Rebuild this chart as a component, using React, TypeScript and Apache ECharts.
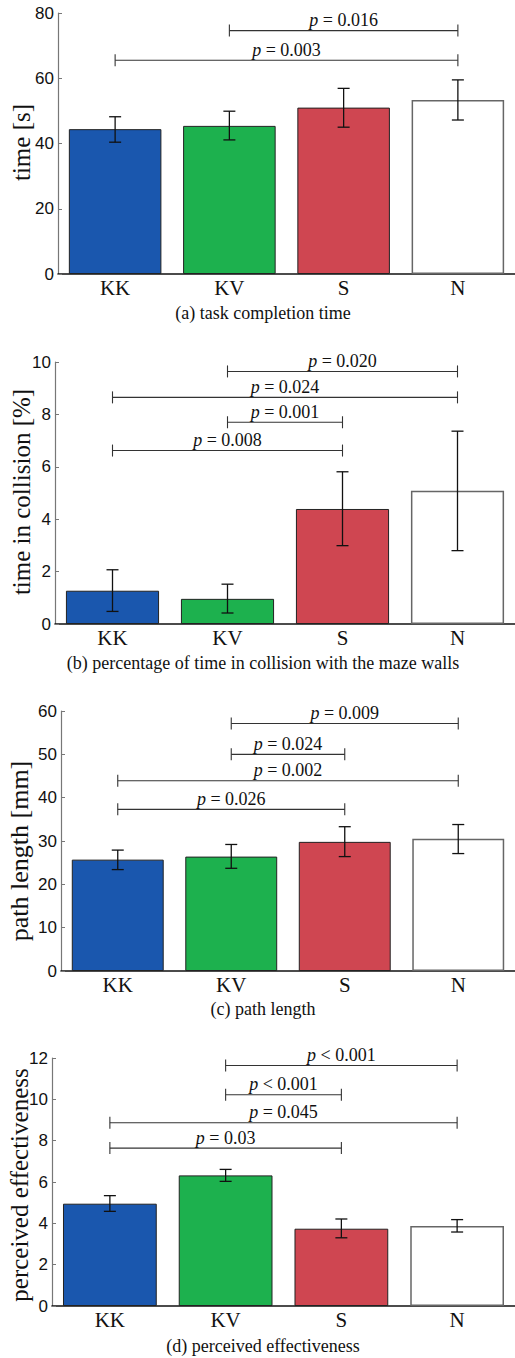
import React, { useEffect, useRef } from "react";
import * as echarts from "echarts";

const categories = ["KK", "KV", "S", "N"];
const barColors = ["#1a57ae", "#1db14e", "#cf4651", "#ffffff"];

// (a) task completion time
const timeMean = [44.4, 45.4, 51.0, 53.3];
const timeLow = [40.4, 41.1, 45.0, 47.2];
const timeHigh = [48.2, 49.9, 56.9, 59.5];
const timeBrackets = [
  { from: 1, to: 3, y: 74.6, op: "=", p: "0.016" },
  { from: 0, to: 3, y: 65.5, op: "=", p: "0.003" },
];

// (b) percentage of time in collision
const collMean = [1.27, 0.96, 4.39, 5.09];
const collLow = [0.48, 0.42, 2.99, 2.8];
const collHigh = [2.07, 1.52, 5.81, 7.36];
const collBrackets = [
  { from: 1, to: 3, y: 9.64, op: "=", p: "0.020" },
  { from: 0, to: 3, y: 8.65, op: "=", p: "0.024" },
  { from: 1, to: 2, y: 7.7, op: "=", p: "0.001" },
  { from: 0, to: 2, y: 6.62, op: "=", p: "0.008" },
];

// (c) path length
const pathMean = [25.7, 26.4, 29.8, 30.5];
const pathLow = [23.4, 23.7, 26.4, 27.1];
const pathHigh = [27.9, 29.2, 33.3, 33.8];
const pathBrackets = [
  { from: 1, to: 3, y: 57.1, op: "=", p: "0.009" },
  { from: 1, to: 2, y: 50.0, op: "=", p: "0.024" },
  { from: 0, to: 3, y: 43.9, op: "=", p: "0.002" },
  { from: 0, to: 2, y: 37.3, op: "=", p: "0.026" },
];

// (d) perceived effectiveness
const effMean = [4.95, 6.32, 3.74, 3.87];
const effLow = [4.58, 6.03, 3.3, 3.58];
const effHigh = [5.34, 6.61, 4.21, 4.18];
const effBrackets = [
  { from: 1, to: 3, y: 11.64, op: "<", p: "0.001" },
  { from: 1, to: 2, y: 10.22, op: "<", p: "0.001" },
  { from: 0, to: 3, y: 8.87, op: "=", p: "0.045" },
  { from: 0, to: 2, y: 7.64, op: "=", p: "0.03" },
];

const panels = [
  { name: "time [s]", max: 80, interval: 20, mean: timeMean, low: timeLow, high: timeHigh, brackets: timeBrackets, caption: "(a) task completion time" },
  { name: "time in collision [%]", max: 10, interval: 2, mean: collMean, low: collLow, high: collHigh, brackets: collBrackets, caption: "(b) percentage of time in collision with the maze walls" },
  { name: "path length [mm]", max: 60, interval: 10, mean: pathMean, low: pathLow, high: pathHigh, brackets: pathBrackets, caption: "(c) path length" },
  { name: "perceived effectiveness", max: 12, interval: 2, mean: effMean, low: effLow, high: effHigh, brackets: effBrackets, caption: "(d) perceived effectiveness" },
];

const grids = [
  { left: 58, top: 13, width: 457, height: 261 },
  { left: 55, top: 362, width: 460, height: 262 },
  { left: 61, top: 711, width: 454, height: 260 },
  { left: 52, top: 1058, width: 463, height: 248 },
];
const captionY = [313, 663, 1009, 1346];
const titlePos = [
  [21, 142.5],
  [21, 492],
  [19.5, 851],
  [19, 1185],
];
const titleSize = [25, 25, 26, 25];

const SERIF = "'Liberation Serif', 'DejaVu Serif', serif";
const SANS = "'Liberation Sans', Arial, sans-serif";

export default function App() {
  const ref = useRef<HTMLDivElement>(null);
  useEffect(() => {
    if (!ref.current) return;
    const chart = echarts.init(ref.current, null, { renderer: "svg" });
    const series: any[] = [];
    panels.forEach((p, k) => {
      series.push({
        type: "bar",
        xAxisIndex: k,
        yAxisIndex: k,
        z: 2,
        barCategoryGap: "19%",
        data: p.mean.map((v, i) => ({
          value: v,
          itemStyle: {
            color: barColors[i],
            borderColor: i === 3 ? "#666" : "#222",
            borderWidth: i === 3 ? 1.5 : 1,
          },
        })),
      });
      series.push({
        type: "custom",
        xAxisIndex: k,
        yAxisIndex: k,
        z: 5,
        clip: false,
        data: p.mean.map((_, i) => [i, p.low[i], p.high[i]]),
        renderItem: (params: any, api: any) => {
          const x = api.value(0);
          const hi = api.coord([x, api.value(2)]);
          const lo = api.coord([x, api.value(1)]);
          const cap = 6;
          const st = { stroke: "#111", lineWidth: 1.3 };
          return {
            type: "group",
            children: [
              { type: "line", shape: { x1: hi[0], y1: hi[1], x2: lo[0], y2: lo[1] }, style: st },
              { type: "line", shape: { x1: hi[0] - cap, y1: hi[1], x2: hi[0] + cap, y2: hi[1] }, style: st },
              { type: "line", shape: { x1: lo[0] - cap, y1: lo[1], x2: lo[0] + cap, y2: lo[1] }, style: st },
            ],
          };
        },
      });
      series.push({
        type: "custom",
        xAxisIndex: k,
        yAxisIndex: k,
        z: 5,
        clip: false,
        data: p.brackets.map((b) => [b.from, b.to, b.y]),
        renderItem: (params: any, api: any) => {
          const b = p.brackets[params.dataIndex];
          const a = api.coord([api.value(0), api.value(2)]);
          const c = api.coord([api.value(1), api.value(2)]);
          const st = { stroke: "#333", lineWidth: 1.1 };
          const h = 6;
          return {
            type: "group",
            children: [
              { type: "line", shape: { x1: a[0], y1: a[1], x2: c[0], y2: c[1] }, style: st },
              { type: "line", shape: { x1: a[0], y1: a[1] - h, x2: a[0], y2: a[1] + h }, style: st },
              { type: "line", shape: { x1: c[0], y1: c[1] - h, x2: c[0], y2: c[1] + h }, style: st },
              {
                type: "text",
                x: (a[0] + c[0]) / 2,
                y: a[1] - 1.5,
                style: {
                  text: `{i|p} ${b.op} ${b.p}`,
                  rich: { i: { fontStyle: "italic", fontFamily: SERIF, fontSize: 18, fill: "#111" } },
                  fontFamily: SERIF,
                  fontSize: 18,
                  fill: "#111",
                  align: "center",
                  verticalAlign: "bottom",
                },
              },
            ],
          };
        },
      });
    });

    const graphics: any[] = [];
    panels.forEach((p, k) => {
      graphics.push({
        type: "text",
        x: 263,
        y: captionY[k],
        style: {
          text: p.caption,
          fontFamily: SERIF,
          fontSize: 18,
          fill: "#111",
          align: "center",
          verticalAlign: "middle",
        },
      });
      graphics.push({
        type: "text",
        x: titlePos[k][0],
        y: titlePos[k][1],
        rotation: Math.PI / 2,
        style: {
          text: p.name,
          fontFamily: SERIF,
          fontSize: titleSize[k],
          fill: "#111",
          align: "center",
          verticalAlign: "middle",
        },
      });
    });

    chart.setOption({
      animation: false,
      grid: grids.map((g) => ({ ...g, containLabel: false })),
      xAxis: panels.map((_, k) => ({
        type: "category",
        gridIndex: k,
        data: categories,
        axisLine: { show: true, lineStyle: { color: "#111", width: 1.5 } },
        axisTick: { show: false },
        axisLabel: { fontFamily: SERIF, fontSize: 21, color: "#111", margin: 3 },
      })),
      yAxis: panels.map((p, k) => ({
        type: "value",
        gridIndex: k,
        min: 0,
        max: p.max,
        interval: p.interval,
        axisLine: { show: true, lineStyle: { color: "#777", width: 1.2 } },
        axisTick: { show: true, inside: true, length: 4, lineStyle: { color: "#777" } },
        axisLabel: { fontFamily: SANS, fontSize: 17, color: "#111", margin: 4 },
        splitLine: { show: false },
      })),
      graphic: graphics,
      series,
    });
    return () => chart.dispose();
  }, []);
  return (
    <div
      ref={ref}
      style={{ position: "absolute", left: 0, top: 0, width: 515, height: 1358, background: "#fff" }}
    />
  );
}
